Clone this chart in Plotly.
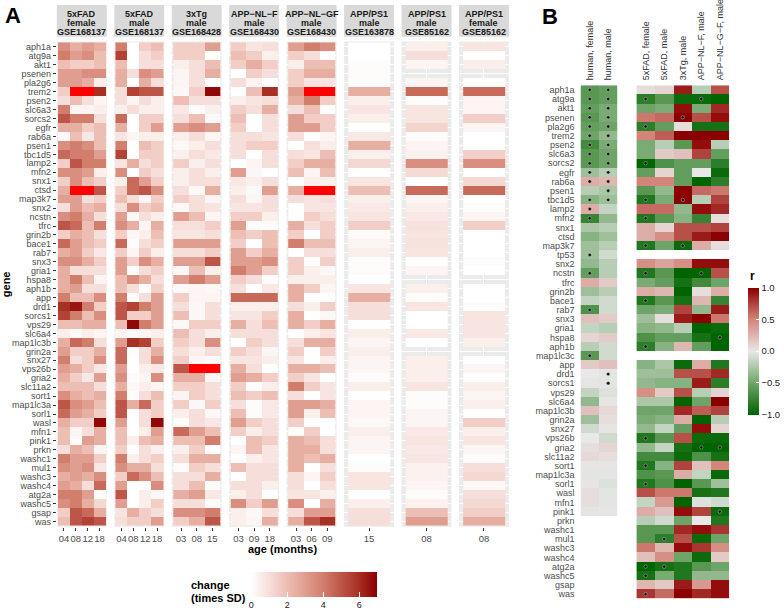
import plotly.graph_objects as go

W, H = 784, 616
def fx(p): return p / W
def fy(p): return 1 - p / H

FONT = "Liberation Sans, Arial, sans-serif"

# ---------------- Panel A data ----------------
genes_A = ["aph1a","atg9a","akt1","psenen","pla2g6","trem2","psen2","slc6a3","sorcs2","egfr",
           "rab6a","psen1","tbc1d5","lamp2","mfn2","snx1","ctsd","map3k7","snx2","ncstn",
           "tfrc","grin2b","bace1","rab7","snx3","gria1","hspa8","aph1b","app","drd1",
           "sorcs1","vps29","slc6a4","map1lc3b","grin2a","snx27","vps26b","gria2","slc11a2","sort1",
           "map1lc3a","sorl1","wasl","mfn1","pink1","prkn","washc1","mul1","washc3","washc4",
           "atg2a","washc5","gsap","was"]

facet_titles = [("5xFAD","female","GSE168137"), ("5xFAD","male","GSE168137"),
                ("3xTg","male","GSE168428"), ("APP\u2212NL\u2212F","male","GSE168430"),
                ("APP\u2212NL\u2212GF","male","GSE168430"), ("APP/PS1","male","GSE163878"),
                ("APP/PS1","male","GSE85162"), ("APP/PS1","female","GSE85162")]

ages_fad5 = ["04","08","12","18"]
ages_3xtg = ["03","08","15"]
ages_nlf = ["03","09","18"]
ages_nlgf = ["03","06","09"]
ages_163878 = ["15"]
ages_85162 = ["08"]

# change (times SD); values above 7 lie beyond the colour scale (drawn bright red)
fad5_female = [
 [3.5,2.5,3,2.5],[4,3,3.5,2],[2,1.5,1.5,2],[3,3,3.5,3.5],[3,3,2.5,0.5],[1.5,9,9,6],
 [1,2,1,0.3],[4,0.3,0.3,0.5],[5,4,4,1],[2.5,2.5,1.5,2],[0.2,2,0.7,2],[3.5,4,3.5,2],
 [4.5,4,4,3],[1.5,5,4,4],[3.5,3.5,3,0.5],[1.5,3.5,2,1.5],[2.5,9,9,5],[3,3,1,1.5],
 [1,3,2,2.5],[3.5,4,2.5,1],[5,4.5,2,4],[1.5,2.5,2,1],[4.5,3,2,1.5],[2.5,3,1.5,0.7],
 [3.5,3.5,2.5,1.5],[2.5,1,1,1],[2.5,4,2,0.3],[2.5,3,1,1],[4,2,2,3.5],[6,6.5,4,1.5],
 [5.5,4,2,3.5],[2,2,2.5,2.5],[0.5,0.2,0.5,0.3],[2.5,4.5,4,1],[3,1.5,1.5,2.5],[4,1,1.5,3.5],
 [3,2.5,1.5,0.7],[2.5,1.5,0.7,3],[2,2,2,1],[3.5,2.5,2,2.5],[5,3.5,3,2],[4.5,3,2.5,1.5],
 [2.5,1.5,1.5,6.8],[2,0.3,1,2.5],[2,0.1,3,2.5],[1,2.5,2,0.3],[4,3,3,1.5],[3.5,3,3.5,0.7],
 [2.5,3,2.5,3.5],[3,2.5,1,4.5],[4,4,3,0.1],[3.5,4,2.5,1.2],[1.5,5,4.5,2.5],[2,5,5.5,5]]

fad5_male = [
 [4,0,1.5,2],[5.5,0,1,1.5],[2,0,1,1],[2.5,1,3.5,3],[2.5,0,2.5,1],[1,5.5,5,5],
 [1,0.3,1,0.5],[0.5,1,0.5,0.5],[4.5,0,1.5,1.5],[2.5,0,1.5,3],[0.8,0.3,0.5,0.5],[4,0,2,1.5],
 [5.5,0,1.5,1.5],[0.8,2.5,1,1.5],[3.5,0,1.5,1],[0.5,4.5,3,1.5],[1.5,4.5,5,3.5],[2,1,0.3,1.5],
 [1,3.5,1.5,2],[3,0.2,1,0.5],[3.5,2.5,0.3,2.5],[1.5,0.2,0.5,2],[4.5,0.1,1,1.5],[1.5,0.3,1.5,0.5],
 [3,1.5,3.5,2.5],[3,0.1,1,1.5],[2,3.5,2.5,1],[2,1,0.1,1.5],[4,0.1,1,3],[5,5.5,4,3],
 [5,1.5,1.5,3],[2,6.8,4,3],[0.3,0.2,0.3,0.5],[3,6,5.5,1.5],[4.5,0.1,1,2.5],[4.5,0,1,3.5],
 [3,0,0.5,0.7],[3.5,0.1,0.3,3.5],[2.5,0.2,0.5,0.3],[4,0.1,1,2],[5,2.5,4.5,1.5],[5,0,1,1.5],
 [3,0,1,6.8],[2,0,0.5,3],[2,0.5,2,2.5],[1.5,0,1,0.5],[4,0.5,1,1.5],[3.5,2.5,2.5,1],
 [1.5,4.5,3.5,2],[3,0,0,3.5],[5,0,0.5,0.2],[3,0,0.5,1.5],[0.8,2.5,1.5,1],[1,1.5,1.5,3]]

tg3_male = [
 [1.5,1.5,3],[1.5,1.5,0],[0.5,1,2],[0.3,1,2.5],[0.3,1,0],[0.2,1.5,6.8],[2,1,1],[0.7,0.1,0.5],
 [1,2,0.2],[3,3.5,3],[0.5,1,0.3],[0.2,0.5,1],[0.5,1,0.7],[1.5,0.5,1],[0.5,1,0.5],[0.5,1,1],
 [1,0.2,2.5],[1.5,1,0.3],[0.2,1,0.8],[3,2,0.3],[1,1,1.5],[0.8,0.8,1],[3,3,3],[1,1,1.5],
 [3,3,5],[0.2,2,0.5],[3,4,3],[0.2,0.3,0.2],[1.5,0.3,0.3],[1,0.2,1],[2,0.2,1],[0.2,1.5,1.5],
 [2,1,0.5],[1.5,1,3.5],[1,0.5,1],[1.5,0.3,0.2],[5,9,9],[2.5,2.5,0.3],[1.5,1.5,1],[0.3,1.5,1],
 [1.5,0.2,1.5],[0.5,1,0.2],[0.1,1,0.7],[4.5,3,2],[2,2,4],[0.5,1.5,0],[1,2.5,2.5],[0.1,1.5,1],
 [1,1,2.5],[1,2,0.1],[2.5,3,0.7],[1,1,0.1],[3.5,3.5,4],[1.5,2.5,5]]

nlf_male = [
 [1.5,0.8,1],[2,1.5,0.5],[1.5,2.5,1.5],[0,1.5,1],[1,0.3,0],[0,2,6],[0.5,0.8,1],[1.5,1,2.5],
 [2,0,1],[1.5,0,1],[1,1,0.8],[1,1.5,1.5],[1,0,1],[0,0.3,1],[3,0.2,0],[0.7,0.5,1],
 [0.5,0.2,3],[1,0.3,1],[0.8,0.8,1],[1.5,1.5,0.5],[3,0.1,0.1],[2,1.5,2],[1.5,0,2],[3,1.5,2.5],
 [3,3,3.5],[4,3,1.5],[1.5,1,0.1],[1,0,0.7],[4.5,4.5,4.5],[0.5,0.5,0.5],[0.8,0.8,1.5],[2.5,1,2],
 [1,1,1],[0,1.5,1],[1.5,1,0.3],[0.8,0.8,0.5],[2.5,1,0],[3,2.5,1.5],[1.5,0,0.5],[2,1.5,2],
 [1,0.1,0.7],[2,0.1,0.7],[3,1.5,1],[1.5,0.5,1],[0,2,1.5],[0.3,2,0.8],[0,0.5,0.8],[2,1,1],
 [0,1,1],[1,1,0.5],[0.5,1,0],[3.5,1.5,3],[0.5,0.2,1],[0.5,0.3,2.5]]

nlgf_male = [
 [3,4,3.5],[1.5,1,0],[0.5,2,2],[1.5,2.5,2.5],[1.5,0.8,0.8],[3,9,9],[2.5,4,1.5],[1,2,0],
 [3,1.5,1.5],[3,3,1.5],[1,0,0.3],[0,1,0.5],[1,0.8,2],[1.5,2.5,2.5],[2,0.3,2],[0,0.5,0.5],
 [2.5,9,9],[1,0.8,1],[0,0.8,0.8],[0,1.5,1],[2.5,1,1.5],[1.5,0,1.5],[4,2,2],[0,1,1],
 [1.5,0,1.5],[1.5,0.5,0.2],[0.5,0.5,0.5],[2.5,1.5,0.3],[2.5,0,0],[1,0.5,1.5],[2.5,0,0.2],[2.5,1.5,2.5],
 [0,0.5,0.8],[1,2.5,2.5],[1.5,0,1.5],[0.8,0,0.5],[2.5,2.5,2],[1.5,0.8,0],[4,1.5,0.8],[1,0,0.8],
 [3,3,2.5],[3,0.5,2],[1.5,0,0],[0.1,1.5,0],[2.5,2,1],[2.5,2.5,1],[2.5,2,2.5],[2.5,0,1],
 [1,0.3,1.5],[1,0,1],[0.8,0.8,0.5],[3.5,0,2.5],[1,3,3],[2.5,5,6]]

apps1_163878_male = [0,0,0.1,0.1,0.1,2.5,0.5,0.8,0.5,0, 0.7,2.5,0.5,1.2,0,0.8,2,0.5,0.7,0.8,
 1.5,0.1,0.3,0.5,0.1,0.1,0,0.8,2.5,1, 1,0,0.5,0.3,0.5,0.3,0.3,0.1,0.5,0,
 0.3,0.3,0.2,0.5,0.3,0.3,0,0.1,0.8,0.8, 0,0.5,1,1]

apps1_85162_male = [0.5,1,0.3,None,0.3,4.5,0.1,0.8,0.8,1.3, 0.1,0.3,0.4,3.5,1.1,0,4.5,0.3,0.5,0.7,
 0.9,0.8,0.9,0.8,0,0.3,None,0.5,0.1,0.8, 0,0,0.7,0,None,0.5,0.5,0.5,0.8,0.1,
 0.1,0.3,0.3,0.7,0.8,0.7,0.8,0.4,0.4,0.3, 0.1,0.4,2,3]

apps1_85162_female = [0.8,0,0.5,None,0,4.5,0.3,0.3,1.5,0.3, 0,0,1.5,3.5,0,1.2,4.5,0,0.1,0.3,
 1.5,0,0,0,0.1,0,None,0,0,0.1, 0.8,0.8,0.8,0.5,None,0,0.3,0,0.5,0.3,
 0.5,0,1.5,0.5,0.8,0.3,0.1,1,1.2,0.2, 1,1.2,1.5,2.5]

facet_ages = [ages_fad5, ages_fad5, ages_3xtg, ages_nlf, ages_nlgf, ages_163878, ages_85162, ages_85162]
facet_values = [fad5_female, fad5_male, tg3_male, nlf_male, nlgf_male,
                [[v] for v in apps1_163878_male], [[v] for v in apps1_85162_male],
                [[v] for v in apps1_85162_female]]
change_max = 7
change_ticks = [0, 2, 4, 6]

# ---------------- Panel B data ----------------
genes_B = ["aph1a","atg9a","akt1","psenen","pla2g6","trem2","psen2","slc6a3","sorcs2","egfr",
           "rab6a","psen1","tbc1d5","lamp2","mfn2","snx1","ctsd","map3k7","tp53","snx2",
           "ncstn","tfrc","grin2b","bace1","rab7","snx3","gria1","hspa8","aph1b","map1lc3c",
           "app","drd1","sorcs1","vps29","slc6a4","map1lc3b","grin2a","snx27","vps26b","gria2",
           "slc11a2","sort1","map1lc3a","sorl1","wasl","mfn1","pink1","prkn","washc1","mul1",
           "washc3","washc4","atg2a","washc5","gsap","was"]

human_cols = ["human, female", "human, male"]
mouse_cols = ["5xFAD, female", "5xFAD, male", "3xTg, male", "APP\u2212NL\u2212F, male", "APP\u2212NL\u2212G\u2212F, male"]

human_female_r = [-0.6,-0.6,-0.55,-0.6,-0.55,-0.5,-0.7,-0.6,-0.6,-0.3,
                  0.3,-0.2,-0.4,0.3,-0.75,-0.25,-0.4,-0.3,-0.3,-0.35,
                  -0.55,0.3,-0.3,-0.15,-0.65,0.2,-0.15,0.1,-0.2,-0.6,
                  0.15,0.0,0.02,-0.15,-0.35,0.2,-0.3,-0.1,0.0,0.05,
                  0.08,0.02,-0.02,0.02,0.05,0.05,-0.02] + [None]*9
human_male_r = [-0.55,-0.55,-0.45,-0.45,-0.5,-0.35,-0.45,-0.5,-0.5,-0.2,
                0.25,-0.25,-0.3,-0.15,-0.35,-0.2,-0.3,-0.2,-0.1,-0.2,
                -0.2,0.15,-0.2,-0.1,-0.1,0.15,-0.2,0.15,-0.1,-0.1,
                0.2,-0.02,-0.02,-0.05,0.02,0.08,0.05,0.02,-0.1,0.1,
                0.05,0.02,-0.02,-0.05,-0.02,-0.02,0.02] + [None]*9

mouse_r = [
 [0.05,0.1,0.9,-0.2,0.7],[-0.8,-0.6,-0.95,-0.95,-1.0],[-0.5,-0.45,0.95,-0.45,0.85],
 [0.55,0.6,1.0,0.7,0.95],[-0.8,-0.55,0.05,-0.9,-0.9],[0.5,0.65,1.0,1.0,1.0],
 [-0.45,-0.2,-0.6,0.95,-0.2],[-0.45,0.15,0.2,0.75,-0.55],[-1.0,-0.65,-0.55,-0.55,-0.8],
 [-0.55,0.1,-0.55,0.0,-0.95],[0.5,0.5,-0.55,-1.0,-0.8],[-0.6,-0.35,1.0,0.6,0.55],
 [-0.85,-0.45,1.0,-0.2,0.75],[0.6,0.6,-0.35,0.95,0.85],[-0.85,-0.6,-0.4,-0.75,0.05],
 [0.3,0.1,0.7,0.7,0.75],[0.3,0.45,0.7,0.9,1.0],[-0.85,-0.5,-0.95,0.3,0.05],
 [None,None,None,None,None],
 [0.45,0.35,0.45,0.95,0.95],[-0.85,-0.6,-1.0,-1.0,0.7],[-0.45,-0.55,-0.9,-0.7,-0.5],
 [0.3,0.25,-1.0,0.05,0.3],[-0.85,-0.6,-0.9,0.25,-0.75],[-0.5,-0.45,0.75,-0.35,0.9],
 [-0.3,0.05,0.9,1.0,0.55],[-0.4,-0.35,-0.2,-1.0,-0.95],[-0.65,-0.55,-0.55,-0.9,-1.0],
 [-0.8,-0.4,0.25,-0.55,-1.0],
 [None,None,None,None,None],
 [-0.4,-0.25,-0.95,0.3,-0.85],[-0.3,-0.3,0.7,0.7,0.85],[-0.35,-0.4,-0.4,0.9,-0.8],
 [0.45,0.15,0.7,-0.2,0.1],[-0.25,-0.25,-1.0,-0.5,1.0],[-0.5,-0.5,0.85,0.65,0.75],
 [-0.45,-0.4,0.3,-1.0,-0.2],[-0.35,-0.15,-0.55,0.95,0.1],[-0.85,-0.6,0.7,-0.95,-0.95],
 [-0.35,-0.15,-0.9,-1.0,-1.0],[-0.7,-0.7,-0.95,-0.65,-0.9],[-0.85,-0.4,0.75,0.2,0.5],
 [-0.65,-0.6,0.3,-0.15,-0.95],[-0.85,-0.65,-1.0,-0.6,-0.3],[0.7,0.55,0.55,-0.9,-0.85],
 [-0.15,0.4,-1.0,-0.05,-0.1],[0.3,0.2,0.95,0.75,-0.95],[-0.2,-0.1,-0.5,0.0,-0.85],
 [-0.6,-0.6,0.85,0.95,0.8],[-0.6,-0.8,0.7,-0.95,-0.5],[0.55,0.25,0.95,0.8,0.45],
 [0.2,0.45,-0.5,-0.95,0.15],[-1.0,-0.9,-0.85,-0.6,-0.5],[-0.9,-0.45,-0.85,-0.35,-0.35],
 [0.25,0.15,0.9,0.4,0.95],[0.8,0.6,1.0,0.85,0.95]]

r_ticks = [-1, -0.5, 0, 0.5, 1]

sig_human = {
 "human, female": ["aph1a","atg9a","akt1","psenen","pla2g6","trem2","psen2","slc6a3","sorcs2","egfr",
                   "rab6a","tbc1d5","lamp2","mfn2","tp53","ncstn","rab7","map1lc3c"],
 "human, male": ["aph1a","atg9a","akt1","psenen","pla2g6","trem2","psen2","slc6a3","sorcs2","egfr",
                 "rab6a","psen1","tbc1d5","drd1","sorcs1"],
}
sig_mouse = {
 "5xFAD, female": ["atg9a","pla2g6","sorcs2","tbc1d5","mfn2","map3k7","ncstn","bace1","aph1b",
                   "vps26b","sort1","sorl1","atg2a","washc5","was"],
 "5xFAD, male": ["mul1","atg2a"],
 "3xTg, male": ["psenen","tbc1d5","map3k7"],
 "APP\u2212NL\u2212F, male": ["atg9a","ncstn","gria2"],
 "APP\u2212NL\u2212G\u2212F, male": ["hspa8","gria2","pink1"],
}

# ---------------- styles ----------------
scale_A = [[0.0, "#FFFFFF"], [0.29, "#EDBDB3"], [0.57, "#D27E6D"], [0.86, "#A82E22"], [1.0, "#8B0000"]]
scale_B = [[0.0, "#006400"], [0.25, "#6FA468"], [0.5, "#E8E8E8"], [0.75, "#D4857A"], [1.0, "#8B0000"]]
over_scale = [[0, "#FF0000"], [1, "#FF0000"]]

fig = go.Figure()
layout_axes = {}
shapes = []
annotations = []

panelA_top, panelA_bot = 42, 532
nA = len(genes_A)
facet_x0 = [57 + k * 57.6 for k in range(8)]
facet_w = 50

for k in range(8):
    ax_name = "xaxis" if k == 0 else f"xaxis{k+1}"
    tr_x = "x" if k == 0 else f"x{k+1}"
    ages = facet_ages[k]
    vals = facet_values[k]
    z_main = [[(v if (v is not None and v <= change_max) else None) for v in row] for row in vals]
    z_over = [[(1 if (v is not None and v > change_max) else None) for v in row] for row in vals]
    cb = None
    if k == 0:
        cb = dict(orientation="h", x=fx(315), xanchor="center", y=fy(578), yanchor="top",
                  len=126, lenmode="pixels", thickness=25, thicknessmode="pixels",
                  outlinewidth=0, tickvals=change_ticks, ticks="inside", tickcolor="white",
                  ticklen=5, tickwidth=1, xpad=0, ypad=0,
                  tickfont=dict(size=9, color="#1A1A1A", family=FONT))
    fig.add_trace(go.Heatmap(x=ages, y=genes_A, z=z_main, xaxis=tr_x, yaxis="y",
                             colorscale=scale_A, zmin=0, zmax=change_max,
                             showscale=(k == 0), colorbar=cb, hoverongaps=False))
    fig.add_trace(go.Heatmap(x=ages, y=genes_A, z=z_over, xaxis=tr_x, yaxis="y",
                             colorscale=over_scale, zmin=0, zmax=1, showscale=False,
                             hoverongaps=False))
    x0 = facet_x0[k]
    layout_axes[ax_name] = dict(domain=[fx(x0), fx(x0 + facet_w)], anchor="y", type="category",
                                categoryorder="array", categoryarray=ages,
                                tickmode="array", tickvals=ages, ticktext=ages, tickangle=0,
                                range=[-0.6, len(ages) - 0.4], showgrid=True, gridcolor="white",
                                gridwidth=1, zeroline=False, showline=False, ticks="outside",
                                ticklen=3, tickcolor="#333333",
                                tickfont=dict(size=9.5, color="#4D4D4D", family=FONT))
    shapes.append(dict(type="rect", xref=f"{tr_x} domain", yref="y domain", x0=0, x1=1, y0=0, y1=1,
                       fillcolor="#EBEBEB", line=dict(width=0), layer="below"))
    shapes.append(dict(type="rect", xref="paper", yref="paper", x0=fx(x0), x1=fx(x0 + facet_w),
                       y0=fy(37), y1=fy(5), fillcolor="#D9D9D9", line=dict(width=0), layer="below"))
    for txt, yy in zip(facet_titles[k], [14, 23.4, 32.8]):
        annotations.append(dict(text=f"<b>{txt}</b>", x=fx(x0 + facet_w / 2), y=fy(yy),
                                xref="paper", yref="paper", showarrow=False, xanchor="center",
                                yanchor="middle", font=dict(size=9, color="#1A1A1A", family=FONT)))

layout_axes["yaxis"] = dict(domain=[fy(panelA_bot), fy(panelA_top)], anchor="x", type="category",
                            categoryorder="array", categoryarray=genes_A,
                            tickmode="array", tickvals=genes_A, ticktext=genes_A,
                            range=[nA - 1 + 0.6, -0.6], showgrid=True, gridcolor="white", gridwidth=1,
                            zeroline=False, showline=False, ticks="outside", ticklen=3,
                            tickcolor="#333333", tickfont=dict(size=9, color="#4D4D4D", family=FONT))

# ---------------- Panel B traces ----------------
nB = len(genes_B)
human_z = [[a, b] for a, b in zip(human_female_r, human_male_r)]
fig.add_trace(go.Heatmap(x=human_cols, y=genes_B, z=human_z, xaxis="x9", yaxis="y2",
                         colorscale=scale_B, zmin=-1, zmax=1, showscale=True, hoverongaps=False,
                         colorbar=dict(x=fx(750), xanchor="left", y=fy(354.5), yanchor="middle",
                                       len=127, lenmode="pixels", thickness=11, thicknessmode="pixels",
                                       outlinewidth=0, xpad=0, ypad=0,
                                       tickvals=r_ticks,
                                       ticktext=[f"{v:.1f}".replace("-", "\u2212") for v in r_ticks],
                                       ticks="inside", tickcolor="white", ticklen=3,
                                       tickfont=dict(size=9.5, color="#1A1A1A", family=FONT))))
fig.add_trace(go.Heatmap(x=mouse_cols, y=genes_B, z=mouse_r, xaxis="x10", yaxis="y2",
                         colorscale=scale_B, zmin=-1, zmax=1, showscale=False, hoverongaps=False))

for axis_ref, sig in (("x9", sig_human), ("x10", sig_mouse)):
    xs, ys = [], []
    for col, glist in sig.items():
        for g in glist:
            xs.append(col)
            ys.append(g)
    fig.add_trace(go.Scatter(x=xs, y=ys, xaxis=axis_ref, yaxis="y2", mode="markers",
                             marker=dict(size=3.4, color="#111111",
                                         line=dict(width=0.6, color="rgba(220,220,220,0.7)")),
                             hoverinfo="skip"))

panelB_top, panelB_bot = 86.1, 604.6
colB = dict(type="category", showgrid=False, zeroline=False, showline=False, side="top",
            tickangle=-90, ticks="", ticklabelstandoff=4,
            tickfont=dict(size=9, color="#333333", family=FONT))
layout_axes["xaxis9"] = dict(domain=[fx(582), fx(619)], anchor="y2", categoryorder="array",
                             categoryarray=human_cols, tickmode="array", tickvals=human_cols,
                             ticktext=human_cols, range=[-0.5, 1.5], **colB)
layout_axes["xaxis10"] = dict(domain=[fx(638), fx(731)], anchor="y2", categoryorder="array",
                              categoryarray=mouse_cols, tickmode="array", tickvals=mouse_cols,
                              ticktext=mouse_cols, range=[-0.5, 4.5], **colB)
layout_axes["yaxis2"] = dict(domain=[fy(panelB_bot), fy(panelB_top)], anchor="x9", type="category",
                             categoryorder="array", categoryarray=genes_B,
                             tickmode="array", tickvals=genes_B, ticktext=genes_B,
                             range=[nB - 0.5, -0.5], showgrid=False, zeroline=False, showline=False,
                             ticks="", ticklabelstandoff=5,
                             tickfont=dict(size=9, color="#4D4D4D", family=FONT))

# ---------------- text ----------------
def add_text(txt, x, y, size, xanchor="center", yanchor="middle", angle=0, color="#000000"):
    annotations.append(dict(text=txt, x=fx(x), y=fy(y), xref="paper", yref="paper", showarrow=False,
                            xanchor=xanchor, yanchor=yanchor, textangle=angle,
                            font=dict(size=size, color=color, family=FONT)))

add_text("<b>A</b>", 3, 16, 22, xanchor="left")
add_text("<b>B</b>", 541, 17, 22, xanchor="left")
add_text("<b>gene</b>", 6, 287, 11, angle=-90)
add_text("<b>age (months)</b>", 283, 554, 11)
add_text("<b>change</b>", 189, 591, 11, xanchor="left")
add_text("<b>(times SD)</b>", 189, 604, 11, xanchor="left")
add_text("<b>r</b>", 754, 279, 12, xanchor="center")

fig.update_layout(width=W, height=H, margin=dict(l=0, r=0, t=0, b=0),
                  paper_bgcolor="white", plot_bgcolor="white", showlegend=False,
                  font=dict(family=FONT), shapes=shapes, annotations=annotations, **layout_axes)

fig.write_html("out.html", config={"displayModeBar": False},
               post_script="document.body.style.margin='0px';document.body.style.padding='0px';"
                           "document.documentElement.style.overflow='hidden';")
